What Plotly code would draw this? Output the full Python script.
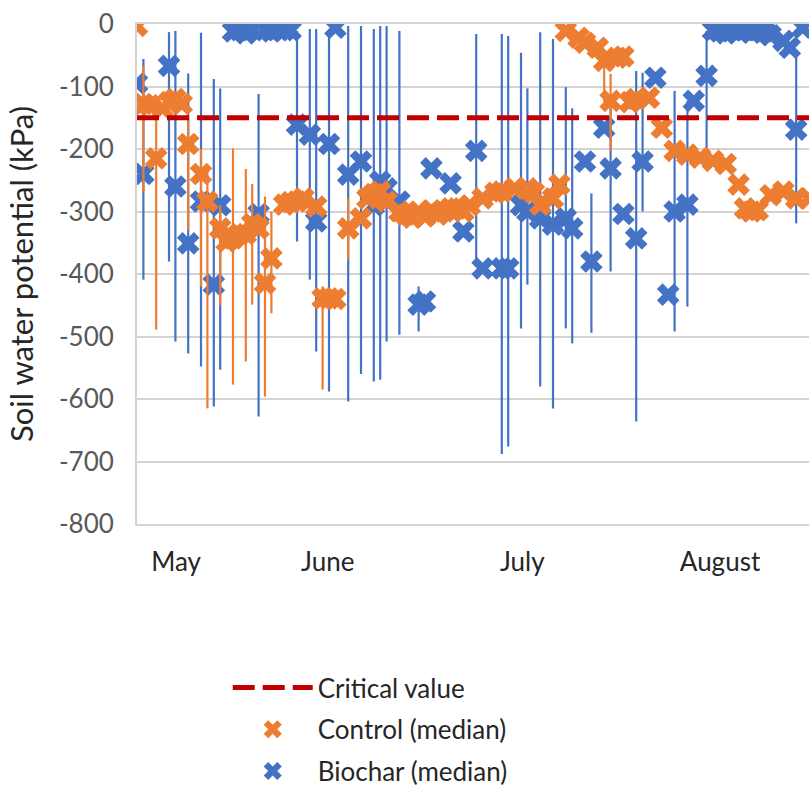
import plotly.graph_objects as go

# ---------------- data (kPa) ----------------
control_day = [0, 1, 2, 3, 4, 5, 6, 7, 8, 10, 11, 13, 14, 15, 16, 17, 18, 19, 20, 21,
               23, 24, 25, 26, 28, 29, 30, 31, 33, 35, 36, 37, 38, 39, 41, 42, 43, 44, 45, 46,
               47, 48, 49, 50, 51, 52, 54, 56, 57, 59, 61, 62, 63, 65, 66, 67, 69, 70, 72, 73,
               74, 75, 76, 77, 78, 80, 82, 84, 86, 88, 90, 92, 94, 95, 96, 97, 99, 101, 103, 105]
control_median = [-3, -128, -130, -215, -135, -125, -120, -128, -192, -240, -284, -327, -348, -343, -336, -336, -320, -327, -415, -375,
                  -289, -285, -284, -279, -292, -439, -439, -440, -327, -311, -279, -272, -268, -284, -300, -305, -310, -300, -308, -298,
                  -305, -300, -295, -295, -300, -290, -279, -270, -268, -263, -263, -270, -289, -279, -257, -11, -22, -30, -38, -59,
                  -123, -54, -52, -125, -120, -118, -166, -203, -209, -214, -219, -224, -257, -295, -300, -298, -274, -268, -279, -279]
control_bar_day = [1, 3, 8, 10, 11, 13, 15, 17, 18, 20, 21, 29, 33, 73, 74]
control_bar_min = [-268, -489, -330, -420, -615, -450, -577, -540, -449, -596, -463, -585, -377, -125, -203]
control_bar_max = [-67, -115, -150, -200, -230, -290, -199, -232, -256, -276, -300, -420, -279, -45, -80]

biochar_day = [0, 1, 5, 6, 8, 10, 12, 13, 15, 16, 17, 18, 19, 20, 21, 22, 23, 24,
               25, 27, 28, 30, 31, 33, 35, 37, 38, 39, 41, 44, 45, 46, 49, 51, 53, 54, 57, 58,
               60, 61, 63, 65, 67, 68, 70, 71, 73, 74, 76, 78, 79, 81, 83, 84, 86, 87, 89,
               90, 91, 92, 93, 94, 95, 96, 97, 98, 99, 101, 102, 103, 104]
biochar_median = [-95, -240, -67, -260, -351, -284, -417, -290, -12, -10, -15, -8, -304, -10, -12, -8, -10, -10,
                  -161, -177, -316, -192, -6, -241, -220, -290, -252, -263, -284, -449, -444, -231, -255, -332, -203, -391, -391, -391,
                  -290, -300, -311, -321, -311, -327, -220, -380, -166, -231, -304, -343, -220, -86, -433, -300, -289, -123, -83,
                  -10, -12, -15, -10, -12, -10, -14, -10, -12, -18, -27, -38, -169, -6]
biochar_bar_day = [1, 5, 6, 8, 10, 12, 13, 19, 25, 27, 28, 30, 33, 35, 37, 38, 39, 41, 44,
                   53, 57, 58, 60, 61, 63, 65, 67, 68, 71, 74, 78, 79, 84, 86, 89, 103]
biochar_bar_min = [-409, -380, -508, -527, -548, -612, -553, -628, -348, -409, -524, -588, -604, -560, -572, -569, -508, -497, -492,
                   -380, -688, -676, -487, -417, -580, -615, -487, -511, -494, -396, -636, -300, -492, -452, -204, -319]
biochar_bar_max = [-56, -13, -11, -79, -14, -88, -103, -112, -11, -8, -8, -8, -3, -3, -8, -3, -3, -11, -420,
                   -16, -16, -19, -46, -103, -13, -24, -101, -135, -271, -123, -75, -78, -107, -123, -11, -43]

critical_value = -150
season_day = [0, 105]
month_tick_day = [6.1, 29.8, 60.2, 91.1]
month_label = ["May", "June", "July", "August"]
y_tick_value = [0, -100, -200, -300, -400, -500, -600, -700, -800]
y_tick_label = ["0", "-100", "-200", "-300", "-400", "-500", "-600", "-700", "-800"]

# ---------------- helpers ----------------
def bar_errors(days, med, bday, bmin, bmax):
    lo = dict(zip(bday, bmin))
    hi = dict(zip(bday, bmax))
    plus = [(hi[d] - m) if d in hi else 0 for d, m in zip(days, med)]
    minus = [(m - lo[d]) if d in lo else 0 for d, m in zip(days, med)]
    return plus, minus

BLUE = "#4472C4"
ORANGE = "#ED7D31"
RED = "#C00000"
GRID = "#D3D3D3"
FONT = "Lato, 'Open Sans', sans-serif"

fig = go.Figure()

bp, bm = bar_errors(biochar_day, biochar_median, biochar_bar_day, biochar_bar_min, biochar_bar_max)
fig.add_trace(go.Scatter(
    x=biochar_day, y=biochar_median, mode="markers", name="Biochar (median)",
    marker=dict(symbol="x", size=20, color=BLUE, line=dict(width=0)),
    error_y=dict(type="data", symmetric=False, array=bp, arrayminus=bm,
                 color=BLUE, thickness=2.2, width=0),
    legendgroup="c", legendrank=3,
))

cp, cm = bar_errors(control_day, control_median, control_bar_day, control_bar_min, control_bar_max)
fig.add_trace(go.Scatter(
    x=control_day, y=control_median, mode="markers", name="Control (median)",
    marker=dict(symbol="x", size=20, color=ORANGE, line=dict(width=0)),
    error_y=dict(type="data", symmetric=False, array=cp, arrayminus=cm,
                 color=ORANGE, thickness=2.2, width=0),
    legendgroup="b", legendrank=2,
))

fig.add_trace(go.Scatter(
    x=season_day, y=[critical_value] * len(season_day), mode="lines", name="Critical value",
    line=dict(color=RED, width=5, dash="22px,8px"),
    legendgroup="a", legendrank=1,
))

fig.update_layout(
    width=809, height=790,
    margin=dict(l=137, r=0, t=24, b=266, autoexpand=False),
    paper_bgcolor="white", plot_bgcolor="white",
    font=dict(family=FONT, size=26, color="#262626"),
    showlegend=True,
    legend=dict(
        x=0.135, y=-0.28, xanchor="left", yanchor="top",
        font=dict(size=26, color="#262626"),
        traceorder="grouped", tracegroupgap=5, itemwidth=80,
        bgcolor="rgba(0,0,0,0)",
    ),
    xaxis=dict(
        range=[0, 105], showgrid=False, zeroline=False,
        showline=True, linecolor=GRID, linewidth=2, mirror=True,
        tickmode="array", tickvals=month_tick_day, ticktext=month_label,
        ticks="", tickfont=dict(size=26, color="#262626", family=FONT),
        ticklabelstandoff=14,
    ),
    yaxis=dict(
        range=[-800, 0], tickmode="array", tickvals=y_tick_value, ticktext=y_tick_label,
        showgrid=True, gridcolor=GRID, gridwidth=2, layer="below traces",
        zeroline=False, showline=True, linecolor=GRID, linewidth=2,
        ticks="", tickfont=dict(size=26, color="#595959", family=FONT),
        ticklabelstandoff=16,
        title=dict(text="Soil water potential (kPa)", standoff=16,
                   font=dict(size=31, color="#262626", family=FONT)),
        automargin=False,
    ),
)

fig.write_html("out.html")
